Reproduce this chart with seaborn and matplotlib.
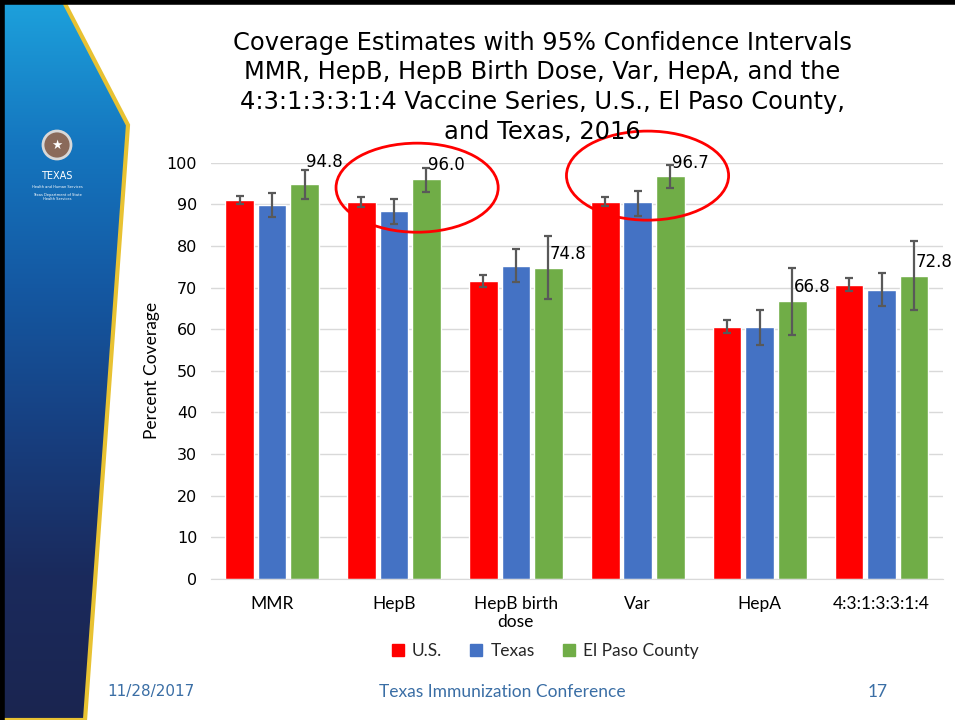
import numpy as np
import pandas as pd
import matplotlib.pyplot as plt
import seaborn as sns
from matplotlib.patches import Ellipse, Polygon

# ---------- data ----------
vaccines = ["MMR", "HepB", "HepB birth\ndose", "Var", "HepA", "4:3:1:3:3:1:4"]
regions = ["U.S.", "Texas", "El Paso County"]

us = [91.1, 90.5, 71.6, 90.6, 60.6, 70.7]
us_lo = [90.0, 89.4, 70.1, 89.6, 59.1, 69.1]
us_hi = [92.1, 91.7, 73.1, 91.7, 62.2, 72.2]

texas = [89.8, 88.4, 75.2, 90.5, 60.5, 69.5]
texas_lo = [86.9, 85.3, 71.3, 87.3, 56.3, 65.5]
texas_hi = [92.7, 91.3, 79.2, 93.3, 64.7, 73.5]

elpaso = [94.8, 96.0, 74.8, 96.7, 66.8, 72.8]
elpaso_lo = [91.3, 93.0, 67.3, 93.9, 58.7, 64.6]
elpaso_hi = [98.3, 98.8, 82.3, 99.4, 74.8, 81.1]

colors = ["#ff0000", "#4472c4", "#70ad47"]
circled = ["HepB", "Var"]

df = pd.DataFrame({
    "vaccine": vaccines * 3,
    "region": [r for r in regions for _ in vaccines],
    "value": us + texas + elpaso,
})
lows = [us_lo, texas_lo, elpaso_lo]
highs = [us_hi, texas_hi, elpaso_hi]
vals = [us, texas, elpaso]

sns.set_style("white")
plt.rcParams["font.family"] = ["DejaVu Sans"]
NARROW = ["Lato", "DejaVu Sans"]

fig = plt.figure(figsize=(9.55, 7.2), dpi=100)

# ---------- slide decoration (left band) ----------
deco = fig.add_axes([0, 0, 1, 1], zorder=-5)
deco.set_xlim(0, 955)
deco.set_ylim(720, 0)
deco.axis("off")
band = Polygon([(0, 0), (63, 0), (128, 125), (85, 720), (0, 720)], closed=True,
               facecolor="none", edgecolor="#e8c232", lw=3)
deco.add_patch(band)
grad = np.linspace(0, 1, 256).reshape(-1, 1)
cmap = plt.matplotlib.colors.LinearSegmentedColormap.from_list(
    "band", ["#1da1dc", "#1576bf", "#1458a2", "#173f80", "#1a2a5c", "#1b2550"])
img = deco.imshow(grad, cmap=cmap, extent=[0, 130, 720, 0], aspect="auto")
img.set_clip_path(band)
deco.plot([0, 955], [2, 2], color="black", lw=4)
deco.plot([2, 2], [0, 720], color="black", lw=4)
deco.add_patch(plt.Circle((57, 145), 14, facecolor="#8a6a5a", edgecolor="#d8d8d8", lw=2))
deco.text(57, 145, "\u2605", color="white", fontsize=9, ha="center", va="center")
deco.text(57, 176, "TEXAS", color="white", fontsize=7, ha="center", va="center")
deco.text(57, 187, "Health and Human Services", color="white", fontsize=2.6, ha="center", va="center")
deco.text(57, 197, "Texas Department of State\nHealth Services", color="white", fontsize=2.6,
          ha="center", va="center", linespacing=1.3)

# ---------- title ----------
fig.text(0.568, 0.879,
         "Coverage Estimates with 95% Confidence Intervals\n"
         "MMR, HepB, HepB Birth Dose, Var, HepA, and the\n"
         "4:3:1:3:3:1:4 Vaccine Series, U.S., El Paso County,\n"
         "and Texas, 2016",
         ha="center", va="center", fontsize=17.4, linespacing=1.3, color="black")

# ---------- bar chart ----------
ax = fig.add_axes([0.221, 0.196, 0.766, 0.578])
sns.barplot(data=df, x="vaccine", y="value", hue="region", palette=colors,
            saturation=1, width=0.8, gap=0.12, ax=ax, legend=False, zorder=2)

bar_groups = list(ax.containers)
for i, cont in enumerate(bar_groups):
    xs = [p.get_x() + p.get_width() / 2 for p in cont.patches]
    v = np.array(vals[i])
    yerr = np.vstack([v - np.array(lows[i]), np.array(highs[i]) - v])
    ax.errorbar(xs, v, yerr=yerr, fmt="none", ecolor="#595959", elinewidth=1.6,
                capsize=3, capthick=1.6, zorder=3)
    if i == 2:
        for x, val in zip(xs, v):
            dy = 16 if val == 94.8 else 10
            ax.annotate(f"{val:.1f}", (x, val), xytext=(1, dy), textcoords="offset points",
                        ha="left", va="center", fontsize=12, color="black", zorder=4)

# red circles around highlighted groups
for name, (dx, cy) in zip(circled, [(0.19, 94.0), (0.08, 96.9)]):
    k = vaccines.index(name)
    ax.add_patch(Ellipse((k + dx, cy), width=1.33, height=21.4, fill=False,
                         edgecolor="#ff0000", lw=2, clip_on=False, zorder=5))

ax.set_ylim(0, 100)
ax.set_yticks(range(0, 101, 10))
ax.set_xlim(-0.5, len(vaccines) - 0.5)
ax.yaxis.grid(True, color="#d9d9d9", lw=1, zorder=0)
ax.set_axisbelow(True)
for s in ["top", "right", "left"]:
    ax.spines[s].set_visible(False)
ax.spines["bottom"].set_color("#d9d9d9")
ax.tick_params(axis="y", length=0, pad=10, labelsize=11.5, labelcolor="black")
ax.tick_params(axis="x", length=0, pad=12, labelcolor="black")
for lab in ax.get_xticklabels():
    lab.set_fontfamily(NARROW)
    lab.set_fontsize(12.5)
ax.set_xlabel("")
ax.set_ylabel("Percent Coverage", family=NARROW, fontsize=12.5, labelpad=5, color="black")

# legend
handles = [plt.Line2D([], [], marker="s", ls="", color=c, markersize=8) for c in colors]
fig.legend(handles, regions, loc="center", bbox_to_anchor=(0.565, 0.096), ncol=3,
           frameon=False, handletextpad=-0.2, columnspacing=1.0,
           prop={"family": NARROW, "size": 12.5})

# ---------- footer ----------
fig.text(0.158, 0.039, "11/28/2017", ha="center", va="center", fontsize=11, color="#3a6ea5")
fig.text(0.526, 0.039, "Texas Immunization Conference", ha="center", va="center",
         fontsize=12.5, color="#3a6ea5", family=NARROW)
fig.text(0.919, 0.039, "17", ha="center", va="center", fontsize=12.5, color="#3a6ea5",
         family=NARROW)

fig.savefig("out.png", dpi=100)
